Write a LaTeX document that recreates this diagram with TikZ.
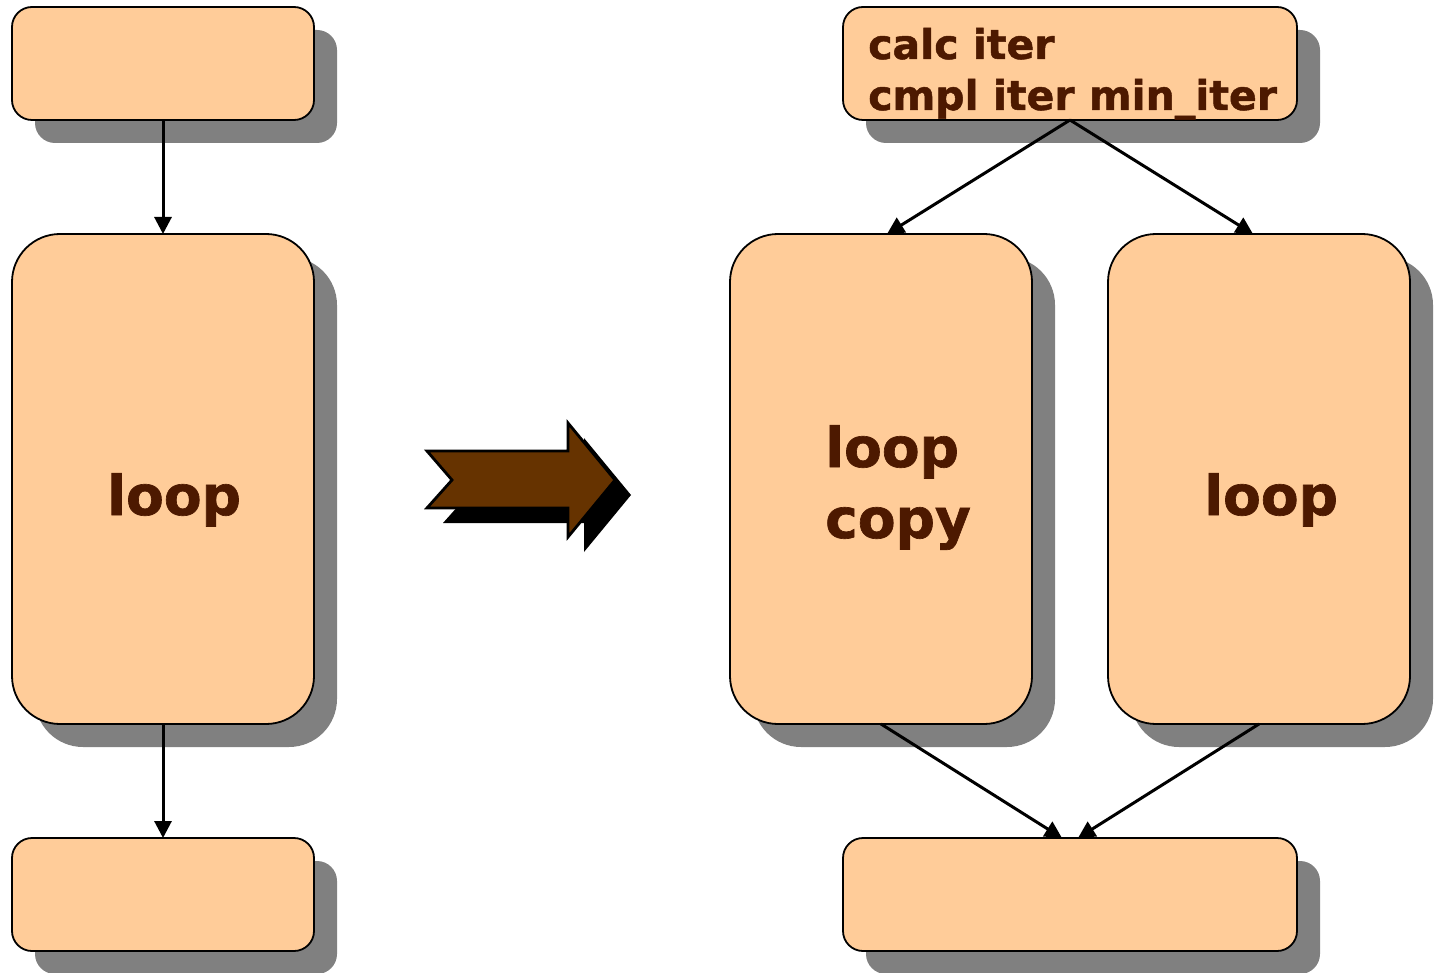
\documentclass[tikz,border=0pt]{standalone}
\usepackage{fontspec}
\newfontfamily\boxfont{DejaVu Sans}[BoldFeatures={FakeBold=1.2}]
\usetikzlibrary{shadows,arrows.meta,calc}
\definecolor{boxfill}{RGB}{255,204,153}
\definecolor{shadowgray}{RGB}{128,128,128}
\definecolor{txtbrown}{RGB}{77,25,0}
\definecolor{arrowbrown}{RGB}{102,51,0}
\tikzset{
  box/.style={draw=black, line width=1.8pt, fill=boxfill, rectangle, inner sep=0pt, outer sep=0pt,
    general shadow={fill=shadowgray, shadow xshift=23pt, shadow yshift=-23pt}},
  smallbox/.style={box, rounded corners=20pt, minimum height=113pt},
  bigbox/.style={box, rounded corners=48pt, minimum width=302pt, minimum height=490pt},
  bigtxt/.style={text=txtbrown, font=\boxfont\bfseries\fontsize{55}{66}\selectfont, inner sep=0pt, anchor=base west},
  toptxt/.style={text=txtbrown, font=\boxfont\bfseries\fontsize{41}{51}\selectfont, inner sep=0pt, anchor=base west},
  conn/.style={line width=3pt, -{Triangle[length=17pt,width=17pt]}},
}
\begin{document}
\begin{tikzpicture}[x=1pt,y=-1pt]
\useasboundingbox (0,0) rectangle (1437,973);
% left column
\node[smallbox, minimum width=302pt] (L1) at (163,63.5) {};
\node[bigbox] (L2) at (163,479) {};
\node[smallbox, minimum width=302pt] (L3) at (163,894.5) {};
\node[bigtxt] (Lt) at (107,515) {loop};
% right column
\node[smallbox, minimum width=454pt] (R1) at (1070,63.5) {};
\node[bigbox] (RC) at (881,479) {};
\node[bigbox] (RL) at (1259,479) {};
\node[smallbox, minimum width=454pt] (R3) at (1070,894.5) {};
\node[toptxt] (R1a) at (868,59) {calc iter};
\node[toptxt] (R1b) at (868,110) {cmpl iter min\_iter};
\node[bigtxt] (RCa) at (825,467) {loop};
\node[bigtxt] (RCb) at (825,538) {copy};
\node[bigtxt] (RLt) at (1204,515) {loop};
% connectors
\draw[conn] (L1.south) -- (L2.north);
\draw[conn] (L2.south) -- (L3.north);
\draw[conn] (R1.south) -- ($(RC.north)+(6,0)$);
\draw[conn] (R1.south) -- ($(RL.north)+(-6,0)$);
\draw[conn] (RC.south) -- ($(R3.north)+(-8,0)$);
\draw[conn] (RL.south) -- ($(R3.north)+(8,0)$);
% big transform arrow
\fill[black, shift={(16,15)}] (427,451) -- (568,451) -- (568,423) -- (615,480) -- (568,537) -- (568,508) -- (427,508) -- (452,480) -- cycle;
\draw[fill=arrowbrown, line width=2.8pt, line join=miter] (427,451) -- (568,451) -- (568,423) -- (615,480) -- (568,537) -- (568,508) -- (427,508) -- (452,480) -- cycle;
\end{tikzpicture}
\end{document}
